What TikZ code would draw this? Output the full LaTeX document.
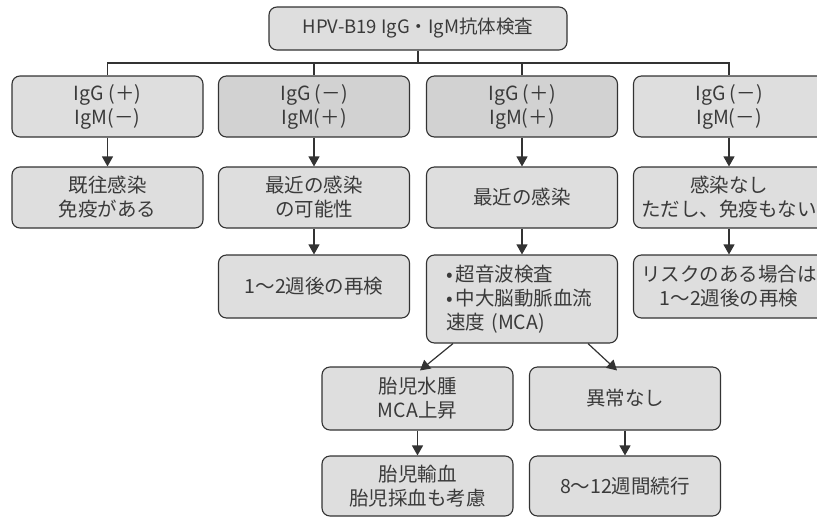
\documentclass[tikz,border=0pt]{standalone}
\usepackage{fontspec}
\newfontfamily\jp{Noto Sans CJK JP}
\usetikzlibrary{arrows.meta,calc}
\definecolor{boxfill}{HTML}{DEDEDE}
\definecolor{boxdark}{HTML}{D2D2D2}
\definecolor{edge}{HTML}{333333}
\definecolor{txt}{HTML}{3A3A3A}
\begin{document}
\begin{tikzpicture}[x=1pt,y=-1pt,
  box/.style={draw=edge,line width=1.1pt,fill=boxfill,rounded corners=8pt,
    minimum width=191pt,minimum height=61pt,inner sep=0pt,align=center,
    text=txt,font=\jp\fontsize{19.5}{24}\selectfont},
  dbox/.style={box,fill=boxdark},
  link/.style={draw=edge,line width=1.2pt},
  arr/.style={link,-{Triangle[width=11pt,length=10pt]}}
]
\useasboundingbox (0,0) rectangle (817,517);
% top
\node[box,minimum width=298pt,minimum height=43pt,font=\jp\fontsize{18.5}{24}\selectfont] (top) at (418,28.5) {HPV-B19 IgG・IgM抗体検査};
% row 1
\node[box]  (a1) at (107.5,106.5) {IgG (＋)\\IgM(－)};
\node[dbox] (b1) at (314,106.5) {IgG (－)\\IgM(＋)};
\node[dbox] (c1) at (522,106.5) {IgG (＋)\\IgM(＋)};
\node[box]  (d1) at (729,106.5) {IgG (－)\\IgM(－)};
% row 2
\node[box] (a2) at (107.5,197.5) {既往感染\\免疫がある};
\node[box] (b2) at (314,197.5) {最近の感染\\の可能性};
\node[box] (c2) at (522,197.5) {最近の感染};
\node[box] (d2) at (729,197.5) {感染なし\\ただし、免疫もない};
% row 3
\node[box,minimum height=63pt] (b3) at (314,286.5) {1～2週後の再検};
\node[box,minimum height=88pt,text width=152pt,align=left] (c3) at (522,299)
  {•\,超音波検査\\•\,中大脳動脈血流\\速度 (MCA)};
\node[box,minimum height=63pt] (d3) at (729,286.5) {リスクのある場合は\\1～2週後の再検};
% row 4
\node[box,minimum height=63pt] (e4) at (417.5,398.5) {胎児水腫\\MCA上昇};
\node[box,minimum height=63pt] (f4) at (625,398.5) {異常なし};
% row 5
\node[box,minimum height=60pt] (e5) at (417.5,486) {胎児輸血\\胎児採血も考慮};
\node[box,minimum height=60pt] (f5) at (625,486) {8～12週間続行};
% bus
\coordinate (bus) at (418,63);
\draw[link] (top.south) -- (bus);
\draw[link] (a1.north) |- (bus) -| (d1.north);
\draw[link] (b1.north) -- (b1.north |- bus);
\draw[link] (c1.north) -- (c1.north |- bus);
% arrows
\draw[arr] (a1.south) -- (a2.north);
\draw[arr] (b1.south) -- (b2.north);
\draw[arr] (c1.south) -- (c2.north);
\draw[arr] (d1.south) -- (d2.north);
\draw[arr] (b2.south) -- (b3.north);
\draw[arr] (c2.south) -- (c3.north);
\draw[arr] (d2.south) -- (d3.north);
\draw[arr] ([xshift=-69pt]c3.south) -- ([xshift=2.5pt,yshift=-4pt]e4.north);
\draw[arr] ([xshift=66pt]c3.south) -- ([xshift=-8pt,yshift=-4pt]f4.north);
\draw[arr] (e4.south) -- (e5.north);
\draw[arr] (f4.south) -- (f5.north);
\end{tikzpicture}
\end{document}
